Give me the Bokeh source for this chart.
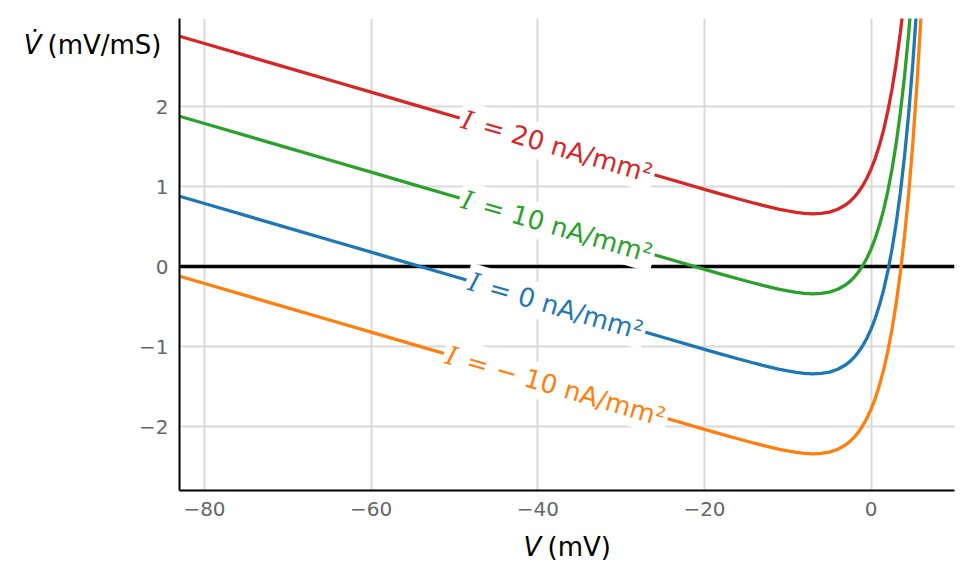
import numpy as np
from bokeh.plotting import figure
from bokeh.models import Range1d, FixedTicker, Span, Label
from bokeh.core.properties import value
from bokeh.embed import file_html
from bokeh.resources import INLINE

# Membrane potential V (mV)
V = [-83, -80, -75, -70, -65, -60, -55, -50, -45, -40, -35, -30, -25, -20,
     -18, -16, -14, -13, -12, -11, -10, -9, -8, -7, -6, -5, -4, -3,
     -2.5, -2, -1.5, -1, -0.5, 0, 0.5, 1, 1.5, 2, 2.5, 3, 3.5, 4, 4.5, 5, 5.5, 6, 6.5, 7]

# dV/dt (mV/ms) for each injected current
dV_m10 = [-0.122, -0.213, -0.365, -0.517, -0.669, -0.821, -0.973, -1.125, -1.277, -1.429, -1.581, -1.733, -1.884, -2.035,
          -2.095, -2.153, -2.209, -2.236, -2.262, -2.285, -2.306, -2.324, -2.336, -2.341, -2.337, -2.320, -2.285, -2.225,
          -2.183, -2.130, -2.066, -1.988, -1.894, -1.780, -1.645, -1.482, -1.289, -1.058, -0.785, -0.461, -0.078, 0.375,
          0.910, 1.541, 2.285, 3.163, 4.197, 5.415]
dV_0 = [0.878, 0.787, 0.635, 0.483, 0.331, 0.179, 0.027, -0.125, -0.277, -0.429, -0.581, -0.733, -0.884, -1.035,
        -1.095, -1.153, -1.209, -1.236, -1.262, -1.285, -1.306, -1.324, -1.336, -1.341, -1.337, -1.320, -1.285, -1.225,
        -1.183, -1.130, -1.066, -0.988, -0.894, -0.780, -0.645, -0.482, -0.289, -0.058, 0.215, 0.539, 0.922, 1.375,
        1.910, 2.541, 3.285, 4.163, 5.197, 6.415]
dV_10 = [1.878, 1.787, 1.635, 1.483, 1.331, 1.179, 1.027, 0.875, 0.723, 0.571, 0.419, 0.267, 0.116, -0.035,
         -0.095, -0.153, -0.209, -0.236, -0.262, -0.285, -0.306, -0.324, -0.336, -0.341, -0.337, -0.320, -0.285, -0.225,
         -0.183, -0.130, -0.066, 0.012, 0.106, 0.220, 0.355, 0.518, 0.711, 0.942, 1.215, 1.539, 1.922, 2.375,
         2.910, 3.541, 4.285, 5.163, 6.197, 7.415]
dV_20 = [2.878, 2.787, 2.635, 2.483, 2.331, 2.179, 2.027, 1.875, 1.723, 1.571, 1.419, 1.267, 1.116, 0.965,
         0.905, 0.847, 0.791, 0.764, 0.738, 0.715, 0.694, 0.676, 0.664, 0.659, 0.663, 0.680, 0.715, 0.775,
         0.817, 0.870, 0.934, 1.012, 1.106, 1.220, 1.355, 1.518, 1.711, 1.942, 2.215, 2.539, 2.922, 3.375,
         3.910, 4.541, 5.285, 6.163, 7.197, 8.415]

currents = [-10, 0, 10, 20]
series = [dV_m10, dV_0, dV_10, dV_20]
colors = ["#ff7f0e", "#1f77b4", "#2ca02c", "#d62728"]
label_rest = ["\u2009= \u2212 10 nA/mm\u00b2", "\u2009= 0 nA/mm\u00b2",
              "\u2009= 10 nA/mm\u00b2", "\u2009= 20 nA/mm\u00b2"]
label_x = [-49.4, -46.7, -47.5, -47.5]

x_ticks = [-80, -60, -40, -20, 0]
y_ticks = [-2, -1, 0, 1, 2]
x_lo, x_hi = -83, 10
y_lo, y_hi = -2.8, 3.1

W, H = 965, 578
ML, MR, MT, MB = 179, 11, 18, 88
FW, FH = W - ML - MR, H - MT - MB

FONT = "DejaVu Sans"

p = figure(width=W, height=H, x_range=Range1d(x_lo, x_hi), y_range=Range1d(y_lo, y_hi),
           output_backend="svg", toolbar_location=None,
           min_border_left=ML, min_border_right=MR, min_border_top=MT, min_border_bottom=MB)
p.outline_line_color = None
p.background_fill_color = "white"
p.border_fill_color = "white"

for ax, ticks in ((p.xaxis[0], x_ticks), (p.yaxis[0], y_ticks)):
    ax.ticker = FixedTicker(ticks=ticks)
    ax.major_label_overrides = {t: str(t).replace("-", "\u2212") for t in ticks}
    ax.major_tick_in = 0
    ax.major_tick_out = 0
    ax.minor_tick_in = 0
    ax.minor_tick_out = 0
    ax.axis_line_color = "black"
    ax.axis_line_width = 2
    ax.major_label_text_font = FONT
    ax.major_label_text_font_size = "20px"
    ax.major_label_text_color = "#666666"
p.xaxis.major_label_standoff = 11
p.yaxis.major_label_standoff = 11

p.xgrid.grid_line_color = "#d9d9d9"
p.ygrid.grid_line_color = "#d9d9d9"
p.xgrid.grid_line_width = 2
p.ygrid.grid_line_width = 2

p.add_layout(Span(location=0, dimension="width", line_color="black", line_width=3.5, level="underlay"))

for ys, c in zip(series, colors):
    p.line(V, ys, line_color=c, line_width=3.3)

px_x = FW / (x_hi - x_lo)
px_y = FH / (y_hi - y_lo)
for ys, c, rest, lx in zip(series, colors, label_rest, label_x):
    ly = float(np.interp(lx, V, ys))
    slope = (np.interp(lx + 8, V, ys) - np.interp(lx - 8, V, ys)) / 16.0
    ang = float(np.arctan(slope * px_y / px_x))
    common = dict(angle=ang, text_baseline="middle",
                  text_font_size="26px", text_color=c,
                  background_fill_color="white", padding=3)
    p.text(x=[lx], y=[ly], text=["I"], text_align="right", text_font=value("DejaVu Serif"),
           text_font_style="italic", **common)
    p.text(x=[lx], y=[ly], text=[rest], text_align="left", text_font=value(FONT), **common)

lab = dict(text_font=FONT, text_font_size="26px", text_color="black", text_baseline="alphabetic")
p.add_layout(Label(x=x_lo, y=y_hi, x_offset=-138, y_offset=-26, text="V\u0307",
                   text_align="right", text_font_style="italic", **lab), "left")
p.add_layout(Label(x=x_lo, y=y_hi, x_offset=-132, y_offset=-26, text="(mV/mS)",
                   text_align="left", **lab), "left")
p.add_layout(Label(x=x_lo, y=y_lo, x_offset=344, y_offset=-56, text="V",
                   text_align="left", text_font_style="italic", **lab), "below")
p.add_layout(Label(x=x_lo, y=y_lo, x_offset=368, y_offset=-56, text="(mV)",
                   text_align="left", **lab), "below")

open("out.html", "w").write(file_html(p, INLINE))
